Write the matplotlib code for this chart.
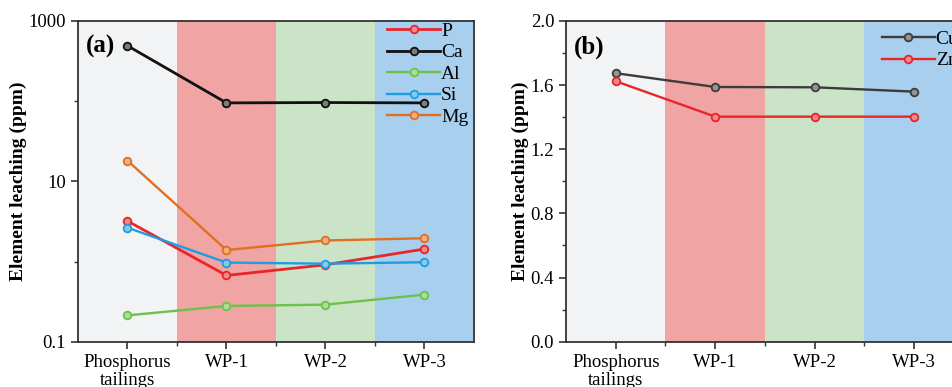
import matplotlib
matplotlib.use("Agg")
import matplotlib.pyplot as plt
from matplotlib.ticker import FixedLocator, NullFormatter

plt.rcParams["font.family"] = ["Liberation Serif", "DejaVu Serif"]

categories = ["Phosphorus\ntailings", "WP-1", "WP-2", "WP-3"]

# panel (a) - log scale
p_vals = [3.2, 0.67, 0.91, 1.43]
ca_vals = [490, 95, 96, 95]
al_vals = [0.213, 0.279, 0.29, 0.387]
si_vals = [2.64, 0.97, 0.94, 0.98]
mg_vals = [18.1, 1.39, 1.83, 1.95]

# panel (b)
cu_vals = [1.674, 1.588, 1.586, 1.559]
zn_vals = [1.624, 1.403, 1.403, 1.403]

band_colors = ["#f1f3f4", "#f0a4a4", "#cbe4c8", "#a8cfee"]
frame_color = "#333333"


def lighten(hex_color, amount=0.45):
    r, g, b = matplotlib.colors.to_rgb(hex_color)
    return (r + (1 - r) * amount, g + (1 - g) * amount, b + (1 - b) * amount)


def format_panel(ax, label):
    for i, c in enumerate(band_colors):
        ax.axvspan(i - 0.5, i + 0.5, color=c, zorder=0, lw=0)
    ax.set_xlim(-0.5, 3.5)
    ax.set_xticks(range(len(categories)))
    ax.set_xticklabels(categories, fontsize=13.5, linespacing=1.15)
    ax.xaxis.set_minor_locator(FixedLocator([0.5, 1.5, 2.5]))
    ax.tick_params(axis="both", which="major", direction="out", length=5,
                   width=1.2, colors=frame_color, labelcolor="black", labelsize=13.5)
    ax.tick_params(axis="both", which="minor", direction="out", length=3,
                   width=1.0, colors=frame_color)
    for s in ax.spines.values():
        s.set_color(frame_color)
        s.set_linewidth(1.3)
    ax.set_ylabel("Element leaching (ppm)", fontsize=14, fontweight="bold",
                  labelpad=1)
    ax.text(0.02, 0.955, label, transform=ax.transAxes, fontsize=18,
            fontweight="bold", va="top", ha="left")


fig = plt.figure(figsize=(9.52, 3.87), dpi=100)
ax1 = fig.add_axes([0.0819, 0.117, 0.416, 0.829])
ax2 = fig.add_axes([0.5945, 0.117, 0.418, 0.829])

x = range(len(categories))
series_a = [("P", p_vals, "#e8262a"), ("Ca", ca_vals, "#111111"),
            ("Al", al_vals, "#6cc24a"), ("Si", si_vals, "#1e9ee0"),
            ("Mg", mg_vals, "#e07020")]
for name, vals, col in series_a:
    lw = 2.0 if name in ("P", "Ca") else 1.7
    ax1.plot(x, vals, color=col, lw=lw, marker="o", ms=5.5,
             mfc=lighten(col), mec=col, mew=1.3, label=name, zorder=3)

ax1.set_yscale("log")
ax1.set_ylim(0.1, 1000)
ax1.yaxis.set_major_locator(FixedLocator([0.1, 10, 1000]))
ax1.yaxis.set_minor_locator(FixedLocator([1, 100]))
ax1.yaxis.set_minor_formatter(NullFormatter())
ax1.set_yticklabels(["0.1", "10", "1000"])
format_panel(ax1, "(a)")
ax1.legend(loc="upper right", frameon=False, fontsize=14, handlelength=2.7,
           handletextpad=0.05, labelspacing=0.2, borderaxespad=0.0,
           bbox_to_anchor=(1.005, 1.02))

series_b = [("Cu", cu_vals, "#3c3c3c"), ("Zn", zn_vals, "#e8262a")]
for name, vals, col in series_b:
    ax2.plot(x, vals, color=col, lw=1.7, marker="o", ms=5.5,
             mfc=lighten(col), mec=col, mew=1.3, label=name, zorder=3)
ax2.set_ylim(0, 2.0)
ax2.set_yticks([0.0, 0.4, 0.8, 1.2, 1.6, 2.0])
ax2.set_yticklabels(["0.0", "0.4", "0.8", "1.2", "1.6", "2.0"])
ax2.yaxis.set_minor_locator(FixedLocator([0.2, 0.6, 1.0, 1.4, 1.8]))
format_panel(ax2, "(b)")
ax2.legend(loc="upper left", frameon=False, fontsize=14, handlelength=2.7,
           handletextpad=0.05, labelspacing=0.2, borderaxespad=0.0,
           bbox_to_anchor=(0.775, 0.995))

fig.savefig("out.png", dpi=100)
